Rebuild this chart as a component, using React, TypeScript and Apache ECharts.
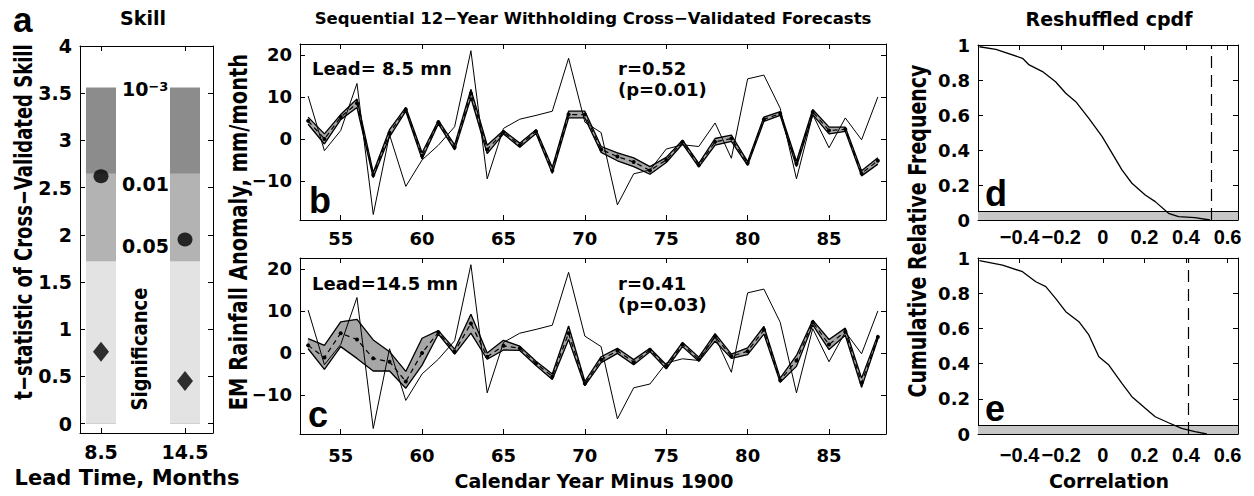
import React, { useEffect, useRef } from "react";
import * as echarts from "echarts";

// ---------- data ----------
const years = [53, 54, 55, 56, 57, 58, 59, 60, 61, 62, 63, 64, 65, 66, 67, 68, 69, 70, 71, 72, 73, 74, 75, 76, 77, 78, 79, 80, 81, 82, 83, 84, 85, 86, 87, 88];
const observed = [10.2, -2.8, 2.0, 13.2, -18.0, 1.0, -11.3, -5.0, -1.5, 2.9, 21.0, -9.5, 2.5, 4.7, 5.6, 6.6, 19.2, 4.0, 1.5, -15.7, -8.3, -7.4, -2.4, -1.4, -1.8, 3.8, -4.6, 14.3, 15.2, 7.3, -9.5, 5.8, -2.1, 5.0, -0.2, 10.0];

const lead85Mean = [4.3, 0.0, 5.2, 8.5, -8.6, 1.4, 7.0, -4.0, 4.0, -2.0, 10.8, -2.5, 1.6, -1.5, 1.8, -7.5, 5.8, 5.8, -2.5, -4.2, -5.5, -7.5, -5.0, -0.7, -6.2, -0.7, 0.1, -5.8, 4.7, 6.0, -5.9, 6.4, 2.0, 2.3, -8.2, -5.2];
const lead85Upper = [5.2, 1.2, 5.8, 9.5, -8.0, 2.2, 7.5, -3.3, 4.4, -1.4, 11.8, -1.5, 2.0, -1.0, 2.2, -6.8, 6.6, 6.6, -1.8, -3.3, -4.5, -6.6, -4.4, -0.3, -5.8, 0.1, 0.9, -5.4, 5.2, 6.5, -5.3, 7.0, 2.8, 2.8, -7.6, -4.5];
const lead85Lower = [3.5, -1.2, 4.6, 7.5, -9.2, 0.5, 6.6, -4.8, 3.6, -2.6, 9.8, -3.5, 1.2, -2.0, 1.3, -8.2, 5.0, 5.0, -3.2, -5.2, -6.6, -8.4, -5.6, -1.2, -6.7, -1.5, -0.6, -6.3, 4.2, 5.6, -6.6, 5.8, 1.2, 1.8, -8.8, -6.0];

const lead145Mean = [1.8, -1.1, 4.7, 3.2, -1.3, -2.1, -6.8, 0.0, 4.9, 0.3, 7.0, -0.9, 1.7, 1.1, -2.5, -5.6, 4.7, -7.3, -1.6, 0.5, -2.2, 0.7, -3.3, 2.0, -1.5, 3.9, -0.8, 0.4, 5.5, -6.5, -1.8, 7.3, 2.0, 5.1, -7.1, 3.8];
const lead145Upper = [3.4, 1.8, 7.4, 8.0, 3.1, 0.3, -4.4, 3.5, 5.3, 0.9, 9.2, 0.0, 3.0, 1.6, -2.0, -5.0, 6.4, -6.8, -0.9, 1.1, -1.6, 1.1, -2.8, 2.5, -1.0, 4.6, -0.3, 1.2, 6.3, -6.0, -0.6, 7.8, 3.2, 5.9, -6.0, 4.3];
const lead145Lower = [1.0, -3.9, 1.5, -1.3, -4.3, -4.3, -8.4, -2.9, 4.5, -0.3, 4.7, -1.5, 0.7, 0.6, -3.0, -6.3, 3.2, -7.8, -2.3, -0.1, -2.8, 0.3, -3.8, 1.5, -2.0, 2.8, -1.3, -0.4, 4.5, -7.0, -3.2, 6.7, 0.8, 4.2, -8.2, 3.3];

const skillLeads = [8.5, 14.5];
const skillCircle = [2.62, 1.95];
const skillDiamond = [0.76, 0.45];
const sigThresholds = [1.72, 2.65, 3.56];

const cdfDr = [-0.593, -0.514, -0.386, -0.354, -0.29, -0.227, -0.178, -0.13, -0.067, -0.003, 0.045, 0.092, 0.14, 0.204, 0.252, 0.316, 0.364, 0.443, 0.515];
const cdfDf = [0.99, 0.975, 0.924, 0.886, 0.848, 0.79, 0.724, 0.676, 0.581, 0.476, 0.381, 0.286, 0.21, 0.143, 0.105, 0.038, 0.019, 0.013, 0.0];
const cdfEr = [-0.593, -0.482, -0.386, -0.322, -0.274, -0.227, -0.178, -0.115, -0.067, -0.019, 0.029, 0.092, 0.14, 0.204, 0.252, 0.316, 0.379, 0.443, 0.5];
const cdfEf = [0.985, 0.96, 0.922, 0.865, 0.837, 0.771, 0.695, 0.638, 0.563, 0.439, 0.392, 0.288, 0.212, 0.146, 0.098, 0.064, 0.032, 0.013, 0.0];
const rLead85 = 0.52;
const rLead145 = 0.41;
const sigLevel = 0.05;

const yearTicks = [55, 60, 65, 70, 75, 80, 85];
const anomTicks = [-10, 0, 10, 20];
const skillTicks = [0, 0.5, 1, 1.5, 2, 2.5, 3, 3.5, 4];
const freqTicks = [0, 0.2, 0.4, 0.6, 0.8, 1];
const corrTicks = [-0.4, -0.2, 0, 0.2, 0.4, 0.6];

// ---------- helpers ----------
const F = "DejaVu Sans";
const LIB = "Liberation Sans";
const fmt = (v: number) => String(v).replace("-", "\u2212");

function axis(grid: number, min: number, max: number, ticks: number[], show: boolean, pos: string, size = 18, margin = 8, ff = F) {
  return {
    type: "value",
    gridIndex: grid,
    min,
    max,
    position: pos,
    axisLine: { show: true, onZero: false, lineStyle: { color: "#000", width: 1 } },
    axisTick: { show: true, inside: true, length: 5, customValues: ticks, lineStyle: { color: "#000", width: 1 } },
    axisLabel: {
      show,
      customValues: ticks,
      formatter: fmt,
      showMinLabel: true,
      showMaxLabel: true,
      hideOverlap: false,
      color: "#000",
      fontFamily: ff,
      fontWeight: "bold",
      fontSize: size,
      margin,
    },
    splitLine: { show: false },
  };
}

const pts = (xs: number[], ys: number[]) => xs.map((x, i) => [x, ys[i]]);

function bandSeries(xi: number, yi: number, upper: number[], lower: number[]) {
  return {
    type: "custom",
    xAxisIndex: xi,
    yAxisIndex: yi,
    silent: true,
    z: 1,
    data: years.map((y, i) => [y, upper[i], lower[i]]),
    encode: { x: 0, y: [1, 2] },
    renderItem: (params: any, api: any) => {
      const i = params.dataIndexInside;
      if (i >= years.length - 1) return null;
      const a = api.coord([api.value(0, i), api.value(1, i)]);
      const b = api.coord([api.value(0, i + 1), api.value(1, i + 1)]);
      const c = api.coord([api.value(0, i + 1), api.value(2, i + 1)]);
      const d = api.coord([api.value(0, i), api.value(2, i)]);
      return {
        type: "polygon",
        shape: { points: [a, b, c, d] },
        style: { fill: "#a6a6a6", stroke: "#a6a6a6", lineWidth: 0.6 },
      };
    },
  };
}

function tsSeries(xi: number, yi: number, mean: number[], upper: number[], lower: number[]) {
  return [
    bandSeries(xi, yi, upper, lower),
    { type: "line", xAxisIndex: xi, yAxisIndex: yi, data: pts(years, upper), symbol: "none", lineStyle: { color: "#000", width: 1.3 }, silent: true, z: 3 },
    { type: "line", xAxisIndex: xi, yAxisIndex: yi, data: pts(years, lower), symbol: "none", lineStyle: { color: "#000", width: 1.3 }, silent: true, z: 3 },
    { type: "line", xAxisIndex: xi, yAxisIndex: yi, data: pts(years, mean), symbol: "circle", symbolSize: 4, itemStyle: { color: "#000" }, lineStyle: { color: "#000", width: 1.2, type: [5, 4] }, silent: true, z: 4 },
    { type: "line", xAxisIndex: xi, yAxisIndex: yi, data: pts(years, observed), symbol: "none", lineStyle: { color: "#000", width: 1 }, silent: true, z: 5 },
  ];
}

function cdfSeries(xi: number, yi: number, r: number[], f: number[], rv: number) {
  return {
    type: "line",
    xAxisIndex: xi,
    yAxisIndex: yi,
    data: pts(r, f),
    symbol: "none",
    silent: true,
    lineStyle: { color: "#000", width: 1.3 },
    z: 3,
    markArea: { silent: true, itemStyle: { color: "#c6c6c6", opacity: 1 }, data: [[{ yAxis: 0 }, { yAxis: sigLevel }]] },
    markLine: {
      silent: true,
      symbol: ["none", "none"],
      label: { show: false },
      emphasis: { disabled: true },
      data: [
        { xAxis: rv, lineStyle: { color: "#000", width: 1.2, type: [12, 7] } },
        { yAxis: sigLevel, lineStyle: { color: "#000", width: 1, type: "solid" } },
      ],
    },
  };
}

type TOpt = { align?: string; rot?: number; sx?: number; sy?: number; ff?: string; rich?: any };
function txt(text: string, x: number, y: number, size: number, o: TOpt = {}) {
  return {
    type: "text",
    x,
    y,
    silent: true,
    rotation: o.rot ?? 0,
    scaleX: o.sx ?? 1,
    scaleY: o.sy ?? 1,
    style: {
      text,
      fill: "#000",
      fontFamily: o.ff ?? F,
      fontWeight: "bold",
      fontSize: size,
      textAlign: o.align ?? "center",
      textVerticalAlign: "middle",
      rich: o.rich,
    },
  };
}

const ROT = Math.PI / 2;

const option = {
  animation: false,
  backgroundColor: "#fff",
  grid: [
    { left: 80, top: 46, width: 133, height: 387, outerBoundsMode: "none" },
    { left: 300, top: 44, width: 586, height: 176, outerBoundsMode: "none" },
    { left: 300, top: 258, width: 586, height: 176, outerBoundsMode: "none" },
    { left: 978, top: 45, width: 260, height: 175, outerBoundsMode: "none" },
    { left: 978, top: 258, width: 260, height: 176, outerBoundsMode: "none" },
  ],
  xAxis: [
    axis(0, 7, 16.5, skillLeads, true, "bottom", 19, 9),
    axis(0, 7, 16.5, skillLeads, false, "top"),
    axis(1, 52.5, 88.5, yearTicks, true, "bottom", 18, 9),
    axis(1, 52.5, 88.5, yearTicks, false, "top"),
    axis(2, 52.5, 88.5, yearTicks, true, "bottom", 18, 12),
    axis(2, 52.5, 88.5, yearTicks, false, "top"),
    axis(3, -0.6, 0.65, corrTicks, true, "bottom", 20, 7, LIB),
    axis(3, -0.6, 0.65, corrTicks, false, "top"),
    axis(4, -0.6, 0.65, corrTicks, true, "bottom", 20, 11, LIB),
    axis(4, -0.6, 0.65, corrTicks, false, "top"),
  ],
  yAxis: [
    axis(0, -0.1, 4, skillTicks, true, "left", 19, 8),
    axis(0, -0.1, 4, skillTicks, false, "right"),
    axis(1, -19.3, 22.6, anomTicks, true, "left", 18, 8),
    axis(1, -19.3, 22.6, anomTicks, false, "right"),
    axis(2, -19.3, 22.6, anomTicks, true, "left", 18, 8),
    axis(2, -19.3, 22.6, anomTicks, false, "right"),
    axis(3, 0, 1, freqTicks, true, "left", 18, 8),
    axis(3, 0, 1, freqTicks, false, "right"),
    axis(4, 0, 1, freqTicks, true, "left", 18, 8),
    axis(4, 0, 1, freqTicks, false, "right"),
  ],
  series: [
    { type: "bar", xAxisIndex: 0, yAxisIndex: 0, data: skillLeads.map((l) => [l, sigThresholds[2]]), barWidth: 30, barGap: "-100%", itemStyle: { color: "#8c8c8c" }, silent: true, z: 1 },
    { type: "bar", xAxisIndex: 0, yAxisIndex: 0, data: skillLeads.map((l) => [l, sigThresholds[1]]), barWidth: 30, barGap: "-100%", itemStyle: { color: "#b3b3b3" }, silent: true, z: 1 },
    { type: "bar", xAxisIndex: 0, yAxisIndex: 0, data: skillLeads.map((l) => [l, sigThresholds[0]]), barWidth: 30, barGap: "-100%", itemStyle: { color: "#e3e3e3" }, silent: true, z: 1 },
    { type: "scatter", xAxisIndex: 0, yAxisIndex: 0, data: pts(skillLeads, skillCircle), symbol: "circle", symbolSize: [15, 14], itemStyle: { color: "#000" }, silent: true, z: 5 },
    { type: "scatter", xAxisIndex: 0, yAxisIndex: 0, data: pts(skillLeads, skillDiamond), symbol: "diamond", symbolSize: [16, 20], itemStyle: { color: "#000" }, silent: true, z: 5 },
    ...tsSeries(2, 2, lead85Mean, lead85Upper, lead85Lower),
    ...tsSeries(4, 4, lead145Mean, lead145Upper, lead145Lower),
    cdfSeries(6, 6, cdfDr, cdfDf, rLead85),
    cdfSeries(8, 8, cdfEr, cdfEf, rLead145),
  ],
  graphic: [
    txt("a", 13, 19, 35, { align: "left", ff: LIB }),
    txt("Skill", 143, 18, 19),
    txt("Sequential 12\u2212Year Withholding Cross\u2212Validated Forecasts", 593, 18, 16.5),
    txt("Reshuffled cpdf", 1109, 19, 19),
    txt("t\u2212statistic of Cross\u2212Validated Skill", 23, 222, 18, { rot: ROT, sy: 1.4 }),
    txt("EM Rainfall Anomaly, mm/month", 238, 232, 19.5, { rot: ROT, sy: 1.3 }),
    txt("Significance", 140, 349, 18, { rot: ROT, sy: 1.2 }),
    txt("Cumulative Relative Frequency", 918, 231, 19, { rot: ROT, sy: 1.3 }),
    txt("{n|10}{s|\u22123}", 122, 89, 19, {
      align: "left",
      rich: {
        n: { fontFamily: F, fontWeight: "bold", fontSize: 19, verticalAlign: "bottom" },
        s: { fontFamily: F, fontWeight: "bold", fontSize: 13, verticalAlign: "top" },
      },
    }),
    txt("0.01", 122, 184, 19, { align: "left" }),
    txt("0.05", 122, 246, 19, { align: "left" }),
    txt("Lead Time, Months", 127, 478, 21),
    txt("Calendar Year Minus 1900", 594, 481, 19),
    txt("Correlation", 1109, 481, 19),
    txt("Lead= 8.5 mn", 312, 68, 18, { align: "left" }),
    txt("r=0.52", 618, 68, 18, { align: "left" }),
    txt("(p=0.01)", 618, 89, 18, { align: "left" }),
    txt("Lead=14.5 mn", 312, 283, 18, { align: "left" }),
    txt("r=0.41", 618, 283, 18, { align: "left" }),
    txt("(p=0.03)", 618, 304, 18, { align: "left" }),
    txt("b", 309, 200, 36, { align: "left", ff: LIB }),
    txt("c", 308, 414, 36, { align: "left", ff: LIB }),
    txt("d", 985, 193, 36, { align: "left", ff: LIB }),
    txt("e", 985, 408, 36, { align: "left", ff: LIB }),
  ],
};

export default function App() {
  const ref = useRef<HTMLDivElement>(null);
  useEffect(() => {
    document.body.style.margin = "0";
    const chart = echarts.init(ref.current as HTMLDivElement, undefined, { renderer: "svg" });
    chart.setOption(option as any);
    return () => chart.dispose();
  }, []);
  return <div ref={ref} style={{ width: 1254, height: 496, background: "#fff" }} />;
}
